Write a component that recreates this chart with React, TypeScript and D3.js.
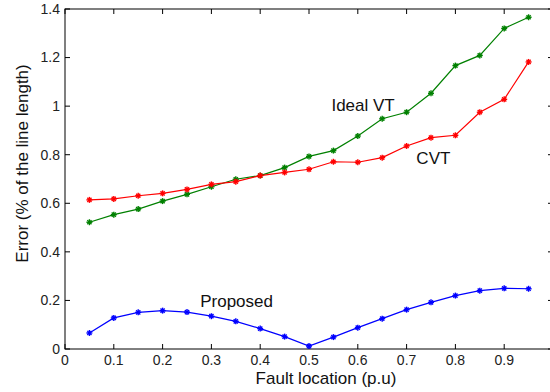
import React from "react";
import * as d3 from "d3";

const faultLocation = [0.05, 0.1, 0.15, 0.2, 0.25, 0.3, 0.35, 0.4, 0.45, 0.5, 0.55, 0.6, 0.65, 0.7, 0.75, 0.8, 0.85, 0.9, 0.95];
const idealVT = [0.522, 0.553, 0.576, 0.609, 0.637, 0.668, 0.699, 0.714, 0.747, 0.793, 0.817, 0.877, 0.948, 0.975, 1.053, 1.167, 1.209, 1.32, 1.366];
const cvt = [0.614, 0.618, 0.631, 0.641, 0.657, 0.678, 0.689, 0.714, 0.727, 0.74, 0.771, 0.769, 0.788, 0.836, 0.87, 0.88, 0.975, 1.028, 1.182];
const proposed = [0.066, 0.128, 0.151, 0.158, 0.152, 0.135, 0.114, 0.084, 0.051, 0.012, 0.049, 0.088, 0.125, 0.162, 0.192, 0.22, 0.24, 0.25, 0.248];

const xTicks = [0, 0.1, 0.2, 0.3, 0.4, 0.5, 0.6, 0.7, 0.8, 0.9];
const yTicks = [0, 0.2, 0.4, 0.6, 0.8, 1, 1.2, 1.4];

const series = [
  { name: "Ideal VT", values: idealVT, color: "#008000", lx: 0.546, ly: 0.98 },
  { name: "CVT", values: cvt, color: "#ff0000", lx: 0.72, ly: 0.762 },
  { name: "Proposed", values: proposed, color: "#0000ff", lx: 0.277, ly: 0.174 },
];

const W = 550;
const H = 392;
const left = 65;
const right = 553;
const top = 9;
const bottom = 349;
const font = "Arial, 'Liberation Sans', Helvetica, sans-serif";

export default function App() {
  const x = d3.scaleLinear().domain([0, 1]).range([left, right]);
  const y = d3.scaleLinear().domain([0, 1.4]).range([bottom, top]);
  const line = d3
    .line<[number, number]>()
    .x((d) => x(d[0]))
    .y((d) => y(d[1]));
  const tl = 5;
  return (
    <svg
      width={W}
      height={H}
      style={{ position: "absolute", left: 0, top: 0, background: "#fff" }}
      fontFamily={font}
    >
      <rect x={0} y={0} width={W} height={H} fill="#fff" />
      <rect x={left} y={top} width={right - left} height={bottom - top} fill="none" stroke="#000" strokeWidth={1} />
      {xTicks.map((t) => (
        <g key={"x" + t}>
          <line x1={x(t)} x2={x(t)} y1={bottom} y2={bottom - tl} stroke="#000" />
          <line x1={x(t)} x2={x(t)} y1={top} y2={top + tl} stroke="#000" />
          <text x={x(t)} y={365} textAnchor="middle" fontSize={14} fill="#222">
            {d3.format("")(t)}
          </text>
        </g>
      ))}
      {yTicks.map((t) => (
        <g key={"y" + t}>
          <line x1={left} x2={left + tl} y1={y(t)} y2={y(t)} stroke="#000" />
          <line x1={right} x2={right - tl} y1={y(t)} y2={y(t)} stroke="#000" />
          <text x={60} y={y(t)} dy="0.35em" textAnchor="end" fontSize={14} fill="#222">
            {d3.format("")(t)}
          </text>
        </g>
      ))}
      {series.map((s) => {
        const pts: [number, number][] = faultLocation.map((f, i) => [f, s.values[i]]);
        return (
          <g key={s.name}>
            <path d={line(pts) || ""} fill="none" stroke={s.color} strokeWidth={1.2} />
            {pts.map((p, i) => {
              const cx = x(p[0]);
              const cy = y(p[1]);
              const r = 3;
              const r2 = 2.1;
              return (
                <g key={i} stroke={s.color} strokeWidth={1.4}>
                  <line x1={cx - r} x2={cx + r} y1={cy} y2={cy} />
                  <line x1={cx} x2={cx} y1={cy - r} y2={cy + r} />
                  <line x1={cx - r2} x2={cx + r2} y1={cy - r2} y2={cy + r2} />
                  <line x1={cx - r2} x2={cx + r2} y1={cy + r2} y2={cy - r2} />
                </g>
              );
            })}
            <text x={x(s.lx)} y={y(s.ly)} fontSize={17} fill="#111">
              {s.name}
            </text>
          </g>
        );
      })}
      <text x={326} y={384} textAnchor="middle" fontSize={17} fill="#111">
        Fault location (p.u)
      </text>
      <text transform={`translate(28, 163.5) rotate(-90)`} textAnchor="middle" fontSize={17} fill="#111">
        Error (% of the line length)
      </text>
    </svg>
  );
}
